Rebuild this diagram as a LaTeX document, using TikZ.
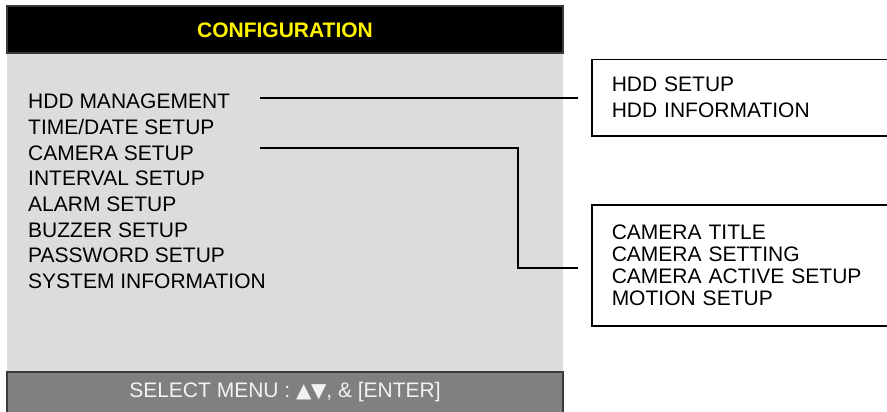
\documentclass[tikz,border=0pt]{standalone}
\usepackage{fontspec}
\setmainfont{Liberation Sans}
\newfontfamily\symfont{DejaVu Sans}
\definecolor{panelgray}{HTML}{DCDCDC}
\definecolor{footgray}{HTML}{808080}
\definecolor{edgegray}{HTML}{3A3A3A}
\begin{document}
\begin{tikzpicture}[
    x=1pt, y=-1pt,
    item/.style={anchor=base west, inner sep=0pt, font=\fontsize{21}{25}\selectfont},
    subbox/.style={draw, line width=1.5pt, fill=white, anchor=north west, text width=300pt,
      inner xsep=20pt, align=left},
    link/.style={line width=2pt},
  ]
    \useasboundingbox (0,0) rectangle (887,412);
    \clip (0,0) rectangle (887,412);
    % panel
    \fill[panelgray] (7,53) rectangle (563,372);
    \draw[edgegray, fill=black, line width=2pt] (7,6) rectangle (563,53);
    \draw[edgegray, fill=footgray, line width=2pt] (7,372) rectangle (563,416);
    \node[inner sep=0pt, text=yellow, font=\fontsize{21}{25}\selectfont\bfseries] (title) at (285,30) {CONFIGURATION};
    \node[inner sep=0pt, text=white!95!black, font=\fontsize{21}{25}\selectfont] (hint) at (285,392)
      {SELECT MENU : {\symfont\fontsize{20}{24}\selectfont ▲\kern-0.5pt▼}, \& [ENTER]};
    \foreach \txt [count=\i] in {HDD MANAGEMENT, TIME/DATE SETUP, CAMERA SETUP, INTERVAL SETUP,
        ALARM SETUP, BUZZER SETUP, PASSWORD SETUP, SYSTEM INFORMATION} {
      \node[item] (m\i) at (28,{83.4+\i*25.6}) {\txt};
    }
    % sub menus
    \node[subbox, minimum height=76pt, font=\fontsize{21}{26}\selectfont] (hddbox) at (591,59)
      {HDD SETUP\\HDD INFORMATION};
    \node[subbox, minimum height=121pt, font=\fontsize{21}{22}\selectfont] (cambox) at (591,204)
      {CAMERA TITLE\\CAMERA SETTING\\CAMERA ACTIVE SETUP\\MOTION SETUP};
    % connectors
    \coordinate (hddS) at (260,98);
    \coordinate (hddE) at (578,98);
    \coordinate (camS) at (260,148);
    \coordinate (camE) at (578,268);
    \draw[link] (hddS) -- (hddE);
    \draw[link] (camS) -| (518,268) -- (camE);
\end{tikzpicture}
\end{document}
